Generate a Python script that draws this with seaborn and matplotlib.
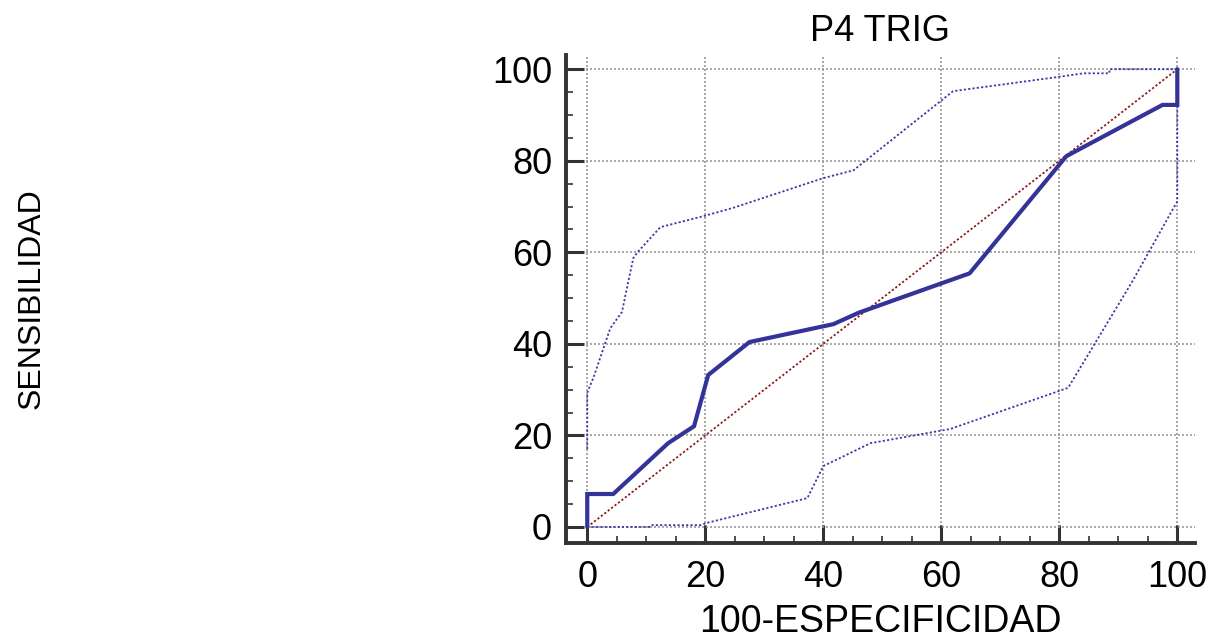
import matplotlib
matplotlib.use("Agg")
import matplotlib.pyplot as plt
import seaborn as sns
import pandas as pd
from matplotlib.ticker import MultipleLocator

# ROC curve (100-specificity, sensitivity)
roc_x = [0, 0, 4.4, 13.7, 18.1, 20.5, 27.5, 41.7, 46.0, 64.8, 81.2, 97.5, 100, 100]
roc_y = [0, 7.2, 7.2, 18.3, 22.0, 33.2, 40.4, 44.3, 46.8, 55.4, 81.0, 92.2, 92.2, 100]

# upper confidence bound
up_x = [0, 0, 1.1, 3.9, 5.9, 6.4, 7.8, 8.5, 12.4, 19.7, 24.7, 40.0, 45.1, 62.0, 79.8, 84.1, 88.5, 88.5, 100]
up_y = [17, 29.3, 32.8, 43.4, 47.0, 50.2, 58.7, 60.0, 65.5, 67.9, 69.7, 76.2, 77.9, 95.2, 98.3, 99.1, 99.1, 100, 100]

# lower confidence bound
lo_x = [0, 10.7, 11.0, 19.2, 20.3, 37.3, 40.0, 48.0, 61.5, 81.5, 92.5, 99.8, 100, 100]
lo_y = [0, 0, 0.4, 0.4, 0.9, 6.3, 13.3, 18.3, 21.4, 30.4, 53.9, 70.7, 71.0, 100]

# reference diagonal
diag_x = [0, 100]
diag_y = [0, 100]

ticks = [0, 20, 40, 60, 80, 100]
title = "P4 TRIG"
xlabel = "100-ESPECIFICIDAD"
ylabel = "SENSIBILIDAD"

sns.set_theme(style="white")
plt.rcParams["font.family"] = ["Liberation Sans", "DejaVu Sans"]

fig = plt.figure(figsize=(12.15, 6.39), dpi=100)
ax = fig.add_axes([566 / 1215, 1 - 543 / 639, (1195 - 566) / 1215, (543 - 55) / 639])

blue = "#333399"
grid_c = "#9a9a9a"

ax.set_xlim(-3.6, 103.0)
ax.set_ylim(-3.5, 103.1)
ax.xaxis.set_minor_locator(MultipleLocator(5))
ax.yaxis.set_minor_locator(MultipleLocator(5))
ax.set_xticks(ticks)
ax.set_yticks(ticks)

ax.grid(True, which="major", color=grid_c, linestyle=(0, (1.2, 1.2)), linewidth=1.2)
ax.set_axisbelow(True)

sns.lineplot(x=diag_x, y=diag_y, ax=ax, color="#8b1a1a", linewidth=1.3,
             linestyle=(0, (1.2, 1.2)), sort=False, estimator=None)
sns.lineplot(x=up_x, y=up_y, ax=ax, color="#3a3aa8", linewidth=1.3,
             linestyle=(0, (1.2, 1.2)), sort=False, estimator=None)
sns.lineplot(x=lo_x, y=lo_y, ax=ax, color="#3a3aa8", linewidth=1.3,
             linestyle=(0, (1.2, 1.2)), sort=False, estimator=None)
sns.lineplot(x=roc_x, y=roc_y, ax=ax, color=blue, linewidth=3.0,
             sort=False, estimator=None, solid_joinstyle="miter")

for s in ["top", "right"]:
    ax.spines[s].set_visible(False)
for s in ["left", "bottom"]:
    ax.spines[s].set_visible(True)
    ax.spines[s].set_color("#333333")
    ax.spines[s].set_linewidth(2.8)

ax.tick_params(axis="both", which="major", direction="in", length=13, width=2.2,
               color="#333333", labelsize=26, labelcolor="black")
ax.tick_params(axis="both", which="minor", direction="in", length=5, width=1.2,
               color="#333333")
ax.tick_params(axis="y", which="major", pad=10, left=True)
ax.tick_params(axis="y", which="minor", left=True)
ax.tick_params(axis="x", which="major", pad=12, bottom=True)
ax.tick_params(axis="x", which="minor", bottom=True)

ax.set_title(title, fontsize=26, pad=10, color="black")
ax.set_xlabel(xlabel, fontsize=27, labelpad=7, color="black")
ax.set_ylabel(ylabel, fontsize=23, color="black")
ax.yaxis.set_label_coords(-0.826, 0.5)

fig.savefig("out.png", dpi=100)
